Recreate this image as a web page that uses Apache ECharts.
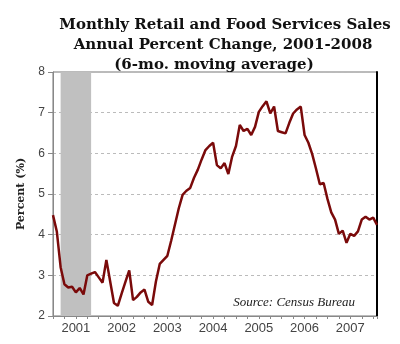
<!DOCTYPE html>
<html>
<head>
<meta charset="utf-8">
<script src="https://cdn.jsdelivr.net/npm/echarts@6/dist/echarts.min.js"></script>
<style>
  html, body { margin: 0; padding: 0; background: #fff; }
  #chart { width: 400px; height: 344px; }
</style>
</head>
<body>
<div id="chart"></div>
<script>
// Monthly periods, Jan 2001 through Feb 2008
const months = [];
for (let y = 2001; y <= 2008; y++) {
  for (let m = 1; m <= 12; m++) {
    if (y === 2008 && m > 2) break;
    months.push(y + '-' + String(m).padStart(2, '0'));
  }
}

// Retail & food services sales, annual % change, 6-month moving average
const salesChange = [
  4.48, 4.08, 3.20, 2.78, 2.70, 2.72, 2.58, 2.69, 2.53, 3.00, 3.04, 3.08,
  2.95, 2.82, 3.38, 2.85, 2.32, 2.25, 2.55, 2.84, 3.12, 2.39, 2.47, 2.58,
  2.65, 2.35, 2.27, 2.85, 3.28, 3.38, 3.48, 3.85, 4.25, 4.65, 4.98, 5.08,
  5.15, 5.40, 5.60, 5.85, 6.08, 6.18, 6.26, 5.71, 5.63, 5.76, 5.49, 5.92,
  6.18, 6.70, 6.55, 6.60, 6.45, 6.65, 7.02, 7.16, 7.28, 6.98, 7.15, 6.55,
  6.52, 6.49, 6.75, 6.98, 7.08, 7.15, 6.45, 6.26, 5.98, 5.62, 5.24, 5.27,
  4.88, 4.55, 4.37, 4.02, 4.10, 3.80, 4.02, 3.97, 4.08, 4.37, 4.44, 4.37,
  4.42, 4.24
];

// Year labels, placed at mid-year (July) ticks
const yearLabels = ['2001', '2002', '2003', '2004', '2005', '2006', '2007'];

// 2001 recession (NBER): March to November 2001, as month indices
const recessionStart = months.indexOf('2001-03');
const recessionEnd = months.indexOf('2001-11');

const seriesData = salesChange.map((v, i) => [i, v]);

const chart = echarts.init(document.getElementById('chart'), null, { renderer: 'canvas' });

const titleStyle = {
  fontFamily: 'DejaVu Serif',
  fontWeight: 'bold',
  fontSize: 15,
  color: '#111'
};

chart.setOption({
  backgroundColor: '#ffffff',
  animation: false,
  title: [
    { text: 'Monthly Retail and Food Services Sales', left: 220, top: 13, textAlign: 'center', textStyle: titleStyle },
    { text: 'Annual Percent Change, 2001-2008', left: 218, top: 33, textAlign: 'center', textStyle: titleStyle },
    { text: '(6-mo. moving average)', left: 209, top: 53, textAlign: 'center', textStyle: titleStyle }
  ],
  grid: {
    left: 53, top: 72, right: 23, bottom: 28,
    show: true,
    borderColor: '#777',
    borderWidth: 1,
    backgroundColor: 'transparent'
  },
  xAxis: {
    type: 'value',
    min: 0,
    max: months.length - 1,
    interval: 3,
    axisLine: { show: true, lineStyle: { color: '#888', width: 1 } },
    axisTick: { show: true, length: 3, lineStyle: { color: '#888' } },
    splitLine: { show: false },
    axisLabel: {
      color: '#444',
      fontFamily: 'Liberation Sans',
      fontSize: 13,
      margin: 6,
      formatter: v => (v % 12 === 6 ? yearLabels[(v - 6) / 12] || '' : '')
    }
  },
  yAxis: [
    {
      type: 'value',
      min: 2,
      max: 8,
      interval: 1,
      name: 'Percent (%)',
      nameLocation: 'middle',
      nameRotate: 90,
      nameGap: 26,
      nameTextStyle: { fontFamily: 'DejaVu Serif', fontWeight: 'bold', fontSize: 11, color: '#222' },
      axisLine: { show: true, lineStyle: { color: '#888', width: 1 } },
      axisTick: { show: true, length: 5, lineStyle: { color: '#888' } },
      axisLabel: { color: '#444', fontFamily: 'Liberation Sans', fontSize: 12, margin: 8 },
      splitLine: { show: true, lineStyle: { color: '#bbb', type: [3, 3], width: 1 } }
    },
    {
      type: 'value',
      position: 'right',
      min: 2,
      max: 8,
      interval: 1,
      axisLine: { show: true, lineStyle: { color: '#000', width: 2 } },
      axisTick: { show: false },
      axisLabel: { show: false },
      splitLine: { show: false }
    }
  ],
  series: [
    {
      type: 'line',
      data: seriesData,
      showSymbol: false,
      symbol: 'none',
      lineStyle: { color: '#7a0a0a', width: 2.5 },
      z: 3,
      markArea: {
        silent: true,
        itemStyle: { color: '#c0c0c0', opacity: 1 },
        data: [[{ xAxis: recessionStart }, { xAxis: recessionEnd }]]
      }
    }
  ],
  graphic: [
    {
      type: 'text',
      right: 45,
      top: 296,
      style: {
        text: 'Source: Census Bureau',
        font: 'italic 13px "Liberation Serif"',
        fill: '#222'
      }
    }
  ]
});
</script>
</body>
</html>
